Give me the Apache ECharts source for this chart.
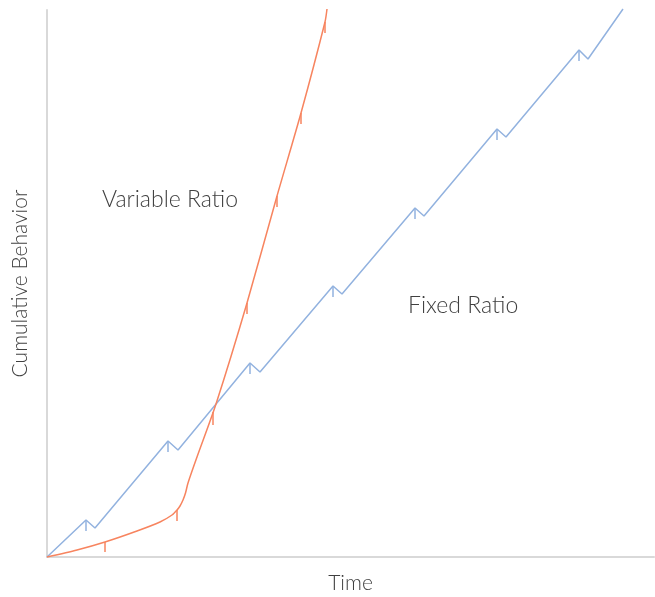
<!DOCTYPE html>
<html>
<head>
<meta charset="utf-8">
<script src="https://cdn.jsdelivr.net/npm/echarts@6/dist/echarts.min.js"></script>
<style>
  html, body { margin: 0; padding: 0; background: #fff; }
  #chart { width: 655px; height: 597px; }
</style>
</head>
<body>
<div id="chart"></div>
<script>
// Fixed ratio: cumulative behavior over time (pause after each reinforcement)
const fixedTime = [0, 39, 48, 121, 131, 203, 213, 286, 295, 368, 377, 450, 459, 532, 541, 576]
const fixedBehavior = [0, 37, 29, 116, 107, 194, 185, 271, 263, 349, 341, 428, 420, 507, 498, 548]
// reinforcement marks on the fixed ratio line: [time, top, bottom]
const fixedMarks = [[39, 37, 26], [121, 116, 105], [203, 194, 183], [286, 271, 260],
  [368, 349, 338], [450, 428, 417], [532, 507, 496]]

// Variable ratio
const varTime = [0, 30, 58, 90, 113, 125, 130, 133, 136, 138.5, 141, 150, 169, 200, 230, 254, 278, 280]
const varBehavior = [0, 7, 15, 26, 35, 42, 47, 51, 57, 64, 74, 100, 153, 254, 361, 444, 535, 548]
const varMarks = [[58, 15, 5], [130, 47, 36], [166, 145, 132], [200, 254, 243],
  [230, 361, 350], [254, 444, 433], [278, 535, 524]]

const orange = '#f7845f'
const blue = '#92b2df'

function pairs (xs, ys) {
  return xs.map((x, i) => [x, ys[i]])
}
function marks (list) {
  return list.map(m => [{ coord: [m[0], m[1]] }, { coord: [m[0], m[2]] }])
}

const chart = echarts.init(document.getElementById('chart'))
const txt = '#404040'
const font = 'Lato, "Open Sans", sans-serif'

chart.setOption({
  animation: false,
  grid: { left: 47, right: 1, top: 10, bottom: 40, containLabel: false, outerBoundsMode: 'none' },
  xAxis: {
    type: 'value', min: 0, max: 607,
    name: 'Time', nameLocation: 'middle', nameGap: 16,
    nameTextStyle: { color: txt, fontSize: 21, fontFamily: font, fontWeight: 300 },
    axisLine: { lineStyle: { color: '#d9d9d9', width: 2 } },
    axisTick: { show: false }, axisLabel: { show: false }, splitLine: { show: false }
  },
  yAxis: {
    type: 'value', min: 0, max: 547,
    name: 'Cumulative Behavior', nameLocation: 'middle', nameGap: 16,
    nameTextStyle: { color: txt, fontSize: 21, fontFamily: font, fontWeight: 300 },
    axisLine: { show: true, lineStyle: { color: '#d9d9d9', width: 2 } },
    axisTick: { show: false }, axisLabel: { show: false }, splitLine: { show: false }
  },
  graphic: [
    { type: 'text', left: 102, top: 188, style: { text: 'Variable Ratio', fill: txt, font: '300 23px ' + font } },
    { type: 'text', left: 408, top: 294, style: { text: 'Fixed Ratio', fill: txt, font: '300 23px ' + font } }
  ],
  series: [
    {
      name: 'Fixed Ratio', type: 'line', data: pairs(fixedTime, fixedBehavior),
      showSymbol: false, lineStyle: { color: blue, width: 1.5 }, clip: false,
      markLine: { silent: true, symbol: 'none', label: { show: false },
        lineStyle: { color: blue, width: 1.5, type: 'solid' }, data: marks(fixedMarks) }
    },
    {
      name: 'Variable Ratio', type: 'line', data: pairs(varTime, varBehavior),
      smooth: 0.25,
      showSymbol: false, lineStyle: { color: orange, width: 1.5 }, clip: false,
      markLine: { silent: true, symbol: 'none', label: { show: false },
        lineStyle: { color: orange, width: 1.5, type: 'solid' }, data: marks(varMarks) }
    }
  ]
})
</script>
</body>
</html>
